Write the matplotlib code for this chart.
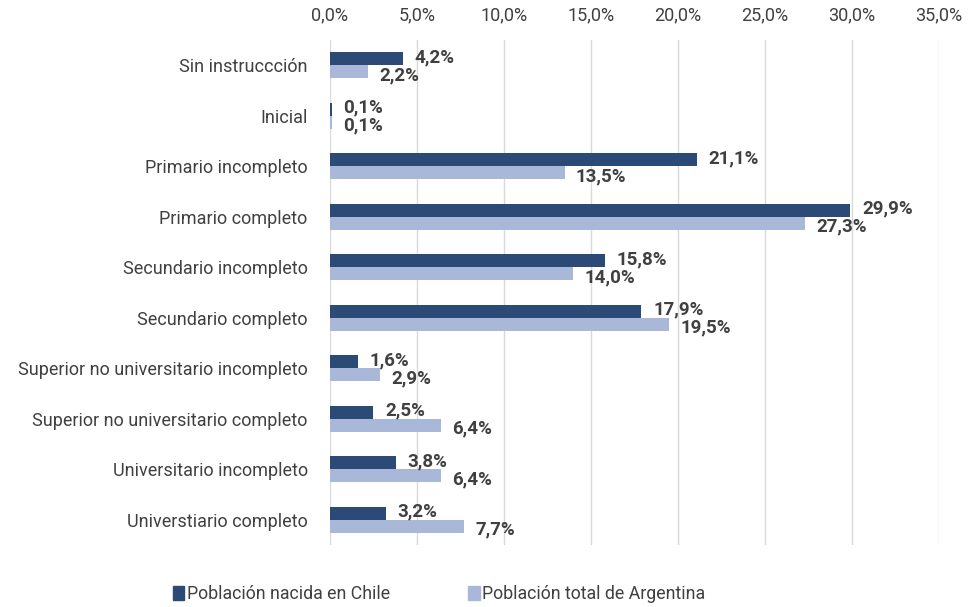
import numpy as np
import matplotlib.pyplot as plt
from matplotlib.patches import Patch
from matplotlib.ticker import FuncFormatter

categorias = ["Sin instruccción", "Inicial", "Primario incompleto", "Primario completo",
              "Secundario incompleto", "Secundario completo",
              "Superior no universitario incompleto", "Superior no universitario completo",
              "Universitario incompleto", "Universtiario completo"]
chile = [4.2, 0.1, 21.1, 29.9, 15.8, 17.9, 1.6, 2.5, 3.8, 3.2]
argentina = [2.2, 0.1, 13.5, 27.3, 14.0, 19.5, 2.9, 6.4, 6.4, 7.7]
ticks = [0, 5, 10, 15, 20, 25, 30, 35]

oscuro = "#2B4A75"
claro = "#A9B8D9"
texto = "#404040"

plt.rcParams['font.family'] = ['Roboto', 'DejaVu Sans']

fig = plt.figure(figsize=(9.79, 6.07), dpi=100)
ax = fig.add_axes([0.337, 0.102, 0.622, 0.832])

y = np.arange(len(categorias))
h = 0.26
ax.barh(y - h / 2, chile, height=h, color=oscuro)
ax.barh(y + h / 2, argentina, height=h, color=claro)

def fmt(v):
    return f"{v:.1f}%".replace(".", ",")

for i in range(len(categorias)):
    ax.annotate(fmt(chile[i]), (chile[i], y[i] - h / 2), xytext=(8.5, 1),
                textcoords="offset points", va="center", ha="left",
                fontsize=13.5, fontweight="bold", color=texto)
    ax.annotate(fmt(argentina[i]), (argentina[i], y[i] + h / 2), xytext=(8, -2.5),
                textcoords="offset points", va="center", ha="left",
                fontsize=13.5, fontweight="bold", color=texto)

ax.set_xlim(0, 35)
ax.set_ylim(len(categorias) - 0.5, -0.5)
ax.set_xticks(ticks)
ax.xaxis.set_major_formatter(FuncFormatter(lambda v, p: f"{v:.1f}%".replace(".", ",")))
ax.xaxis.tick_top()
ax.set_yticks(y)
ax.set_yticklabels(categorias)
ax.tick_params(axis="both", length=0, labelsize=13, colors=texto)
ax.tick_params(axis="x", pad=11)
ax.tick_params(axis="y", pad=16)
ax.grid(axis="x", color="#D9D9D9", linewidth=1)
ax.set_axisbelow(True)
for s in ax.spines.values():
    s.set_visible(False)

handles = [Patch(color=oscuro, label="Población nacida en Chile"),
           Patch(color=claro, label="Población total de Argentina")]
fig.legend(handles=handles, loc="lower left", bbox_to_anchor=(0.16, -0.02), ncol=2,
           frameon=False, handlelength=0.65, handleheight=0.85, handletextpad=0.15,
           columnspacing=4.4, fontsize=12.8, labelcolor=texto)

fig.savefig("out.png", dpi=100)
